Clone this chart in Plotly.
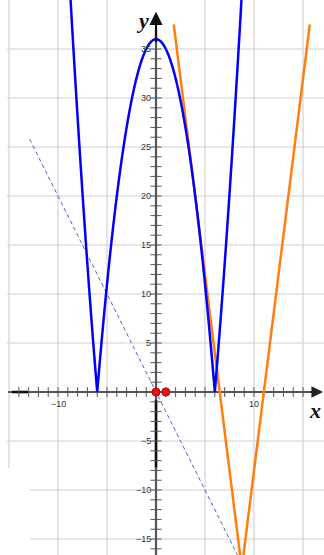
import numpy as np
import plotly.graph_objects as go

# |x^2 - 36| : coefficients of the parabola inside the absolute value
parab_a = 1.0
parab_c = -36.0
parab_x_span = [-9.0, 9.0]

# orange broken line (V shape): corner points
orange_x = [1.81, 8.75, 15.69]
orange_y = [37.5, -18.0, 37.5]

# dashed line y = -2x, end points
dash_x = [-12.9, 8.5]
dash_y = [25.8, -17.0]

# marked points on the x-axis
dot_x = [0, 1]
dot_y = [0, 0]

# tick labels
y_tick_vals = [35, 30, 25, 20, 15, 10, 5, -5, -10, -15]
x_tick_vals = [-10, 10]
grid_x = [-15, -10, -5, 5, 10, 15]
grid_y = [35, 30, 25, 20, 15, 10, 5, -5, -10, -15]

X_MIN, X_MAX = -15.92, 17.14
Y_MIN, Y_MAX = -16.63, 40.0

AXIS_GRAY = "#555555"

fig = go.Figure()
shapes = []

# grid
for gx in grid_x:
    y0 = -7.75 if gx == -15 else Y_MIN
    shapes.append(dict(type="line", x0=gx, x1=gx, y0=y0, y1=Y_MAX,
                       line=dict(color="#e4e4e4", width=2), layer="below"))
for gy in grid_y:
    x0 = -12.9 if gy <= -10 else -15.2
    shapes.append(dict(type="line", x0=x0, x1=X_MAX, y0=gy, y1=gy,
                       line=dict(color="#cfcfcf", width=1), layer="below"))

# axes (under the curves)
shapes.append(dict(type="line", x0=-15.1, x1=16.6, y0=0, y1=0, layer="below",
                   line=dict(color=AXIS_GRAY, width=2.2)))
shapes.append(dict(type="line", x0=-14.7, x1=-13.0, y0=0, y1=0, layer="below",
                   line=dict(color="#111111", width=2.6)))
shapes.append(dict(type="line", x0=0, x1=0, y0=Y_MIN, y1=37.0, layer="below",
                   line=dict(color=AXIS_GRAY, width=2.2)))
shapes.append(dict(type="line", x0=0, x1=0, y0=-0.8, y1=-7.7, layer="below",
                   line=dict(color="#111111", width=2.6)))

# unit ticks on both axes
xt = [k for k in range(-14, 17) if k != 0]
fig.add_trace(go.Scatter(x=xt, y=[0] * len(xt), mode="markers", hoverinfo="skip",
                         marker=dict(symbol="line-ns-open", size=7, color=AXIS_GRAY,
                                     line=dict(color=AXIS_GRAY, width=1)),
                         showlegend=False))
yt = [k for k in range(-16, 36) if k != 0]
fig.add_trace(go.Scatter(x=[0] * len(yt), y=yt, mode="markers", hoverinfo="skip",
                         marker=dict(symbol="line-ew-open", size=8, color=AXIS_GRAY,
                                     line=dict(color=AXIS_GRAY, width=1)),
                         showlegend=False))

# dashed line
fig.add_trace(go.Scatter(x=dash_x, y=dash_y, mode="lines",
                         line=dict(color="#5a5ab4", width=1, dash="4px,3px"),
                         showlegend=False))

# orange V
fig.add_trace(go.Scatter(x=orange_x, y=orange_y, mode="lines",
                         line=dict(color="#ff7f0e", width=2.5),
                         showlegend=False))

# blue |x^2 - 36|
bx = np.linspace(parab_x_span[0], parab_x_span[1], 1441)
bx = np.union1d(bx, [-6.0, 6.0])
by = np.abs(parab_a * bx ** 2 + parab_c)
fig.add_trace(go.Scatter(x=bx, y=by, mode="lines",
                         line=dict(color="#0000ff", width=2.5, simplify=False),
                         showlegend=False))

# red dots
fig.add_trace(go.Scatter(x=dot_x, y=dot_y, mode="markers",
                         marker=dict(symbol="circle", color="#ee1111", size=8,
                                     line=dict(color="#aa0000", width=1)),
                         showlegend=False))

annotations = []
for v in y_tick_vals:
    annotations.append(dict(x=-0.35, y=v, text=str(v).replace("-", "\u2212"),
                            showarrow=False, xanchor="right", yanchor="middle",
                            font=dict(family="Arial, Liberation Sans", size=9, color="#333333")))
for v in x_tick_vals:
    annotations.append(dict(x=v, y=-0.55, text=str(v).replace("-", "\u2212"),
                            showarrow=False, xanchor="center", yanchor="top",
                            font=dict(family="Arial, Liberation Sans", size=9, color="#333333")))

# arrows
annotations.append(dict(x=17.05, y=0, ax=15.6, ay=0, axref="x", ayref="y",
                        xref="x", yref="y", text="", showarrow=True,
                        arrowhead=2, arrowsize=1.3, arrowwidth=1.8, arrowcolor="#222222"))
annotations.append(dict(x=0, y=38.8, ax=0, ay=35.5, axref="x", ayref="y",
                        xref="x", yref="y", text="", showarrow=True,
                        arrowhead=2, arrowsize=1.2, arrowwidth=2.2, arrowcolor="#111111"))

# axis names
annotations.append(dict(x=16.2, y=-1.9, text="<b><i>x</i></b>", showarrow=False,
                        font=dict(family="Liberation Serif, DejaVu Serif", size=22, color="#111111")))
annotations.append(dict(x=-1.35, y=37.9, text="<b><i>y</i></b>", showarrow=False,
                        font=dict(family="Liberation Serif, DejaVu Serif", size=22, color="#111111")))

fig.update_layout(
    width=324, height=555,
    margin=dict(l=0, r=0, t=0, b=0),
    paper_bgcolor="white", plot_bgcolor="white",
    xaxis=dict(range=[X_MIN, X_MAX], visible=False, fixedrange=True),
    yaxis=dict(range=[Y_MIN, Y_MAX], visible=False, fixedrange=True),
    shapes=shapes, annotations=annotations, showlegend=False,
)

fig.write_html("out.html")
